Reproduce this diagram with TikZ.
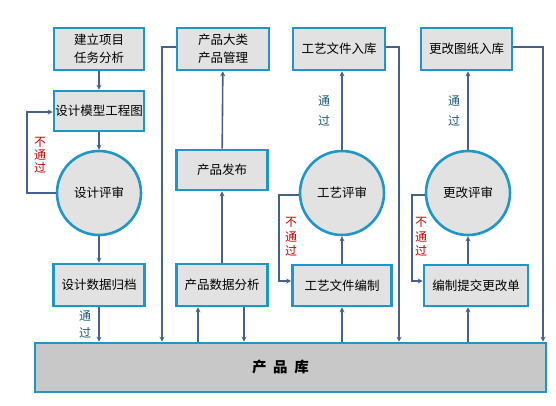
\documentclass[tikz,border=0pt]{standalone}
\usepackage{fontspec}
\setmainfont{Noto Sans CJK SC}
\usetikzlibrary{arrows.meta,calc}
\definecolor{bordc}{RGB}{30,150,198}
\definecolor{boxf}{RGB}{226,226,226}
\definecolor{libf}{RGB}{200,200,200}
\definecolor{linec}{RGB}{70,98,138}
\definecolor{passc}{RGB}{30,90,120}
\definecolor{failc}{RGB}{200,0,0}
\tikzset{
  box/.style={draw=bordc, line width=2.6pt, fill=boxf, rectangle, inner sep=0pt, font=\fontsize{12.5}{18}\selectfont, align=center},
  circ/.style={draw=bordc, line width=2.6pt, fill=boxf, circle, minimum size=84pt, inner sep=0pt, font=\fontsize{12.5}{14}\selectfont},
  conn/.style={draw=linec, line width=1.6pt, -{Stealth[length=5pt,width=5pt]}},
  passlbl/.style={text=passc, font=\fontsize{12}{20}\selectfont, align=center, inner sep=0pt},
  faillbl/.style={text=failc, font=\fontsize{12}{14.5}\selectfont, align=center, inner sep=0pt},
}
\begin{document}
\begin{tikzpicture}[x=1pt,y=-1pt]
\useasboundingbox[fill=white] (0,0) rectangle (556,405);
% library
\node[box, fill=libf, minimum width=511pt, minimum height=49pt, font=\fontsize{14.5}{15}\selectfont\bfseries] (lib) at (290.5,367.5) {\hspace*{-20pt}产\ \ 品\ \ 库};
% design column
\node[box, minimum width=90pt, minimum height=42pt] (b1) at (99,49) {建立项目\\任务分析};
\node[box, minimum width=90pt, minimum height=40pt] (b2) at (99,111) {设计模型工程图};
\node[circ] (c1) at (99,193) {设计评审};
\node[box, minimum width=91pt, minimum height=42pt] (b3) at (99,285) {设计数据归档};
\draw[conn] (b1) -- (b2);
\draw[conn] (b2) -- (c1);
\draw[conn] (c1) -- (b3);
\draw[conn] (b3.south) -- (b3.south |- lib.north);
\coordinate (d1) at (27,193);
\coordinate (d2) at (27,112);
\draw[conn] (c1.west) -- (d1) -- (d2) -- (d2 -| b2.west);
\node[faillbl, font=\fontsize{12}{13}\selectfont] (f1) at (40,155) {不\\通\\过};
\node[passlbl, font=\fontsize{12}{17}\selectfont] (t1) at (85,324) {通\\过};
% product column
\node[box, minimum width=92pt, minimum height=42pt] (p1) at (223,49) {产品大类\\产品管理};
\node[box, minimum width=91pt, minimum height=40pt] (p2) at (222,170) {产品发布};
\node[box, minimum width=91pt, minimum height=42pt] (p3) at (222,285) {产品数据分析};
\coordinate (e1) at (162,47);
\draw[conn] (e1 -| p1.west) -- (e1) -- (e1 |- lib.north);
\draw[conn] (p2) -- (p1);
\draw[conn] (p3) -- (p2);
\coordinate (e2) at (198,300);
\coordinate (e3) at (244,300);
\draw[conn] (e2 |- lib.north) -- (e2 |- p3.south);
\draw[conn] (e3 |- p3.south) -- (e3 |- lib.north);
% process column
\node[box, minimum width=92pt, minimum height=42pt] (g1) at (339,49) {工艺文件入库};
\node[circ] (gc) at (342,193) {工艺评审};
\node[box, minimum width=99pt, minimum height=41pt] (g2) at (342,285.5) {工艺文件编制};
\coordinate (k1) at (399,47);
\draw[conn] (k1 -| g1.east) -- (k1) -- (k1 |- lib.north);
\draw[conn] (gc) -- (gc |- g1.south);
\draw[conn] (g2) -- (gc);
\draw[conn] (g2 |- lib.north) -- (g2.south);
\coordinate (k2) at (279,195);
\coordinate (k3) at (279,281);
\draw[conn] (k2 -| gc.west) -- (k2) -- (k3) -- (k3 -| g2.west);
\node[passlbl] (t2) at (324,111) {通\\过};
\node[faillbl] (f2) at (291,237) {不\\通\\过};
% change column
\node[box, minimum width=91pt, minimum height=42pt] (h1) at (466.5,49) {更改图纸入库};
\node[circ] (hc) at (468,193) {更改评审};
\node[box, minimum width=104pt, minimum height=41pt] (h2) at (476,285.5) {编制提交更改单};
\coordinate (m1) at (543,47);
\draw[conn] (m1 -| h1.east) -- (m1) -- (m1 |- lib.north);
\draw[conn] (hc) -- (hc |- h1.south);
\draw[conn] (hc |- h2.north) -- (hc);
\draw[conn] (hc |- lib.north) -- (hc |- h2.south);
\coordinate (m2) at (412,195);
\coordinate (m3) at (412,281);
\draw[conn] (m2 -| hc.west) -- (m2) -- (m3) -- (m3 -| h2.west);
\node[passlbl] (t3) at (454,111) {通\\过};
\node[faillbl] (f3) at (421,237) {不\\通\\过};
\end{tikzpicture}
\end{document}
